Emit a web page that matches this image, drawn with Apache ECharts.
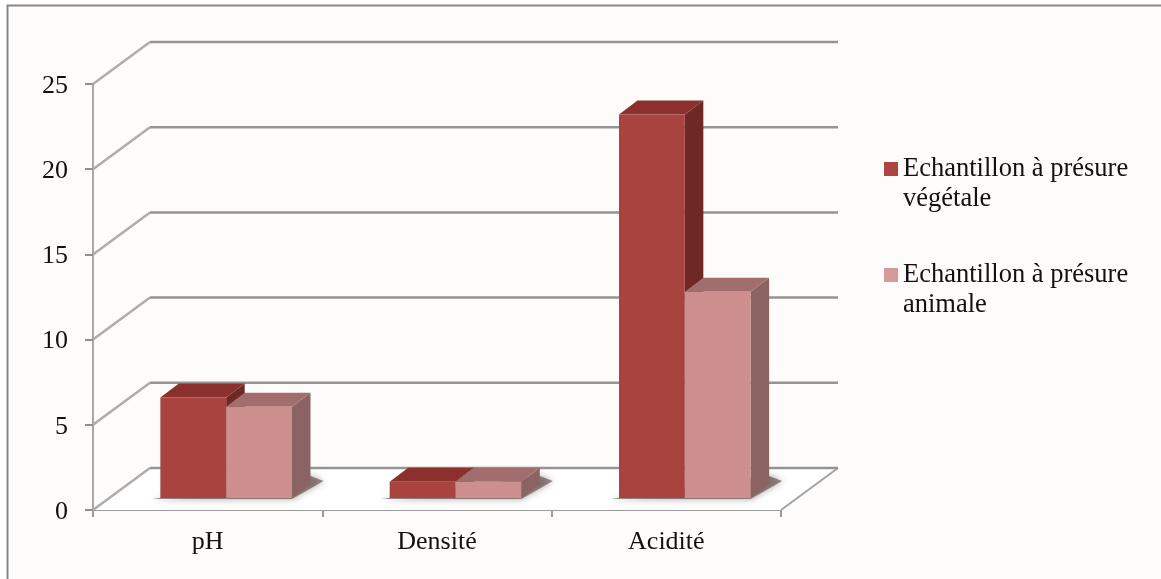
<!DOCTYPE html>
<html>
<head>
<meta charset="utf-8">
<style>html,body{margin:0;padding:0;background:#fff}#chart{width:1161px;height:579px}</style>
<script src="https://cdn.jsdelivr.net/npm/echarts@6/dist/echarts.min.js"></script>
</head>
<body>
<div id="chart"></div>
<script>
// Caractéristiques physico-chimiques des deux fromages
const categories = ['pH', 'Densité', 'Acidité'];
const presureVegetale = [5.9, 0.95, 22.5];
const presureAnimale = [5.35, 0.95, 12.1];
const valueTicks = [0, 5, 10, 15, 20, 25];
const seriesNames = ['Echantillon à présure végétale', 'Echantillon à présure animale'];

// Oblique projection of the 3D box
const WALL_DX = 57, WALL_DY = 42;     // floor depth, front edge to back wall
const BAR_SHIFT_X = 18.5, BAR_SHIFT_Y = 12; // bars stand this far behind the front edge
const BAR_DX = 18.5, BAR_DY = 14;     // depth of each bar
const BAR_RATIO = 0.287;              // bar width relative to a category band
const FONT = '"Liberation Serif", "Times New Roman", serif';

const faces = [
  { front: '#a8433f', top: '#8b302d', side: '#6e2825', legend: '#ad4643' },
  { front: '#cd8f8d', top: '#a26e6d', side: '#8a6362', legend: '#d29a98' }
];

const polygon = (points, fill, extra) => ({
  type: 'polygon', shape: { points }, style: Object.assign({ fill }, extra || {})
});

function renderWalls(params, api) {
  const cs = params.coordSys;
  const left = cs.x, right = cs.x + cs.width;
  const y = api.coord([0, api.value(1)])[1];
  const children = [];
  if (api.value(1) === 0) {
    children.push(polygon(
      [[left, y], [left + WALL_DX, y - WALL_DY], [right + WALL_DX, y - WALL_DY], [right, y]],
      '#ffffff'
    ));
    children.push({
      type: 'line',
      shape: { x1: right, y1: y, x2: right + WALL_DX, y2: y - WALL_DY },
      style: { stroke: '#a3a3a3', lineWidth: 2 }
    });
  }
  children.push({
    type: 'line',
    shape: { x1: left, y1: y, x2: left + WALL_DX, y2: y - WALL_DY },
    style: { stroke: '#adadad', lineWidth: 2.5 }
  });
  children.push({
    type: 'line',
    shape: { x1: left + WALL_DX, y1: y - WALL_DY, x2: right + WALL_DX, y2: y - WALL_DY },
    style: { stroke: '#949494', lineWidth: 2.5 }
  });
  return { type: 'group', children };
}

// Soft cast shadow on the floor, around the foot of each bar pair
function renderShadow(params, api) {
  const base = api.coord([api.value(0), 0]);
  const band = api.size([1, 0])[0];
  const bw = band * BAR_RATIO;
  const cx = base[0] + BAR_SHIFT_X;
  const y = base[1] - BAR_SHIFT_Y;
  return polygon(
    [[cx - bw - 8, y + 1], [cx + bw, y + 1], [cx + bw + BAR_DX + 13, y - BAR_DY - 3], [cx + bw + BAR_DX, y - BAR_DY - 8]],
    'rgba(90,70,68,0.62)',
    { shadowBlur: 7, shadowColor: 'rgba(90,70,68,0.8)' }
  );
}

function barRenderer(seriesPos) {
  return function (params, api) {
    const foot = api.coord([api.value(0), 0]);
    const head = api.coord([api.value(0), api.value(1)]);
    const bw = api.size([1, 0])[0] * BAR_RATIO;
    const l = foot[0] + BAR_SHIFT_X + (seriesPos - 1) * bw;
    const r = l + bw;
    const b = foot[1] - BAR_SHIFT_Y;
    const t = head[1] - BAR_SHIFT_Y;
    const c = faces[seriesPos];
    return {
      type: 'group',
      children: [
        polygon([[r, t], [r + BAR_DX, t - BAR_DY], [r + BAR_DX, b - BAR_DY], [r, b]], c.side),
        polygon([[l, t], [l + BAR_DX, t - BAR_DY], [r + BAR_DX, t - BAR_DY], [r, t]], c.top),
        polygon([[l, t], [r, t], [r, b], [l, b]], c.front)
      ]
    };
  };
}

const chart = echarts.init(document.getElementById('chart'), null, { renderer: 'canvas' });
chart.setOption({
  animation: false,
  backgroundColor: '#ffffff',
  graphic: [
    { type: 'rect', z: -10, shape: { x: 7, y: 5, width: 1154, height: 574 }, style: { fill: '#fefcfa' } },
    { type: 'polyline', z: -9, shape: { points: [[7.5, 579], [7.5, 5.5], [1161, 5.5]] },
      style: { fill: null, stroke: '#878787', lineWidth: 2 } }
  ],
  grid: { left: 93, top: 84, width: 688, height: 426 },
  xAxis: {
    type: 'category',
    data: categories,
    axisLine: { lineStyle: { color: '#9c9c9c', width: 2 } },
    axisTick: { show: true, length: 7, alignWithLabel: false, lineStyle: { color: '#9a9a9a', width: 2 } },
    axisLabel: { color: '#111', fontFamily: FONT, fontSize: 26, margin: 19 }
  },
  yAxis: {
    type: 'value',
    min: 0, max: 25, interval: 5,
    axisLine: { show: true, lineStyle: { color: '#a8a8a8', width: 2 } },
    axisTick: { show: true, length: 8, lineStyle: { color: '#8f8f8f', width: 2 } },
    axisLabel: {
      margin: 25,
      formatter: '{t|{value}}',
      rich: { t: { color: '#111', fontFamily: FONT, fontSize: 26, padding: [4, 0, 0, 0] } }
    },
    splitLine: { show: false }
  },
  legend: {
    orient: 'vertical',
    left: 879, top: 149,
    selectedMode: false,
    itemWidth: 14, itemHeight: 44, itemGap: 46,
    data: seriesNames.map((name, i) => ({
      name,
      // square sits beside the first text line of the wrapped entry
      icon: 'path://M0 0H14V14H0Z M0 44H14',
      itemStyle: { color: faces[i].legend, borderWidth: 0 }
    })),
    formatter: name => name.replace(/ (\S+)$/, '\n$1'),
    textStyle: { color: '#111', fontFamily: FONT, fontSize: 26.5, lineHeight: 30 }
  },
  series: [
    {
      type: 'custom', name: 'walls', z: 1, renderItem: renderWalls,
      encode: { x: 0, y: 1 }, silent: true,
      data: valueTicks.map(v => [0, v])
    },
    {
      type: 'custom', name: 'shadows', z: 2, renderItem: renderShadow,
      encode: { x: 0, y: 1 }, silent: true,
      data: categories.map((c, i) => [i, 0])
    },
    {
      type: 'custom', name: seriesNames[0], z: 3, renderItem: barRenderer(0),
      encode: { x: 0, y: 1 }, itemStyle: { color: faces[0].legend },
      data: presureVegetale.map((v, i) => [i, v])
    },
    {
      type: 'custom', name: seriesNames[1], z: 4, renderItem: barRenderer(1),
      encode: { x: 0, y: 1 }, itemStyle: { color: faces[1].legend },
      data: presureAnimale.map((v, i) => [i, v])
    }
  ]
});
</script>
</body>
</html>
